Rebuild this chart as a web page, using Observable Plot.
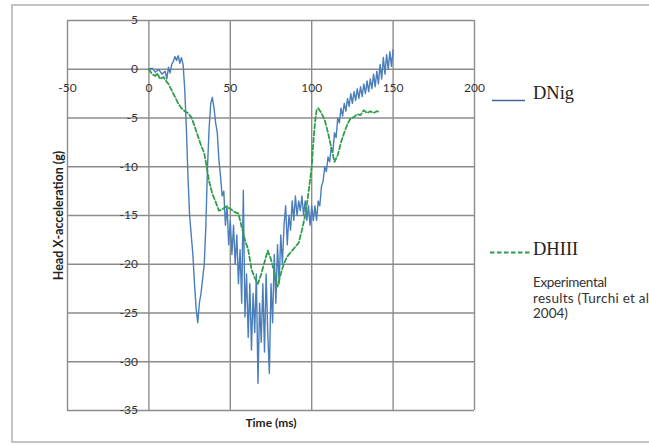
<!DOCTYPE html>
<html><head><meta charset="utf-8">
<script src="https://cdn.jsdelivr.net/npm/d3@7"></script>
<script src="https://cdn.jsdelivr.net/npm/@observablehq/plot@0.6"></script>
<style>body{margin:0;background:#fff;} #chart{position:relative;width:649px;height:445px;overflow:hidden;}</style>
</head><body><div id="chart"></div>
<script>
const xTicks = [-50, 0, 50, 100, 150, 200];
const yTicks = [5, 0, -5, -10, -15, -20, -25, -30, -35];

const dnigT = [0,2,4,6,8,10,11,12,13,14,15,16,17,18,19,20,21,22,23,24,25,26,27,28,29,30,31,32,33,34,35,36,37,38,39,40,41,42,43,44,45,46,47,48,49,50,51,52,53,54,55,56,57,58,59,60,61,62,63,64,65,66,67,68,69,70,71,72,73,74,75,76,77,78,79,80,81,82,83,84,85,86,87,88,89,90,91,92,93,94,95,96,97,98,99,100,101,102,103,104,105,106,107,108,109,110,111,112,113,114,115,116,117,118,119,120,121,122,123,124,125,126,127,128,129,130,131,132,133,134,135,136,137,138,139,140,141,142,143,144,145,146,147,148,149,150];
const dnigG = [0,0.1,-0.3,0,-0.5,-0.2,-1.0,0.2,-0.4,0.5,0.8,1.3,0.9,1.4,0.6,1.2,0.5,-2,-6,-11,-15,-17,-19,-22,-24.5,-26,-24,-23,-21.5,-20,-16,-10,-6,-3.5,-2.9,-4,-5.5,-6.5,-9.3,-11,-13,-12.5,-16,-14,-18,-15.5,-19,-16,-20,-17,-22,-18.5,-24,-12.4,-25.4,-21,-27.5,-22,-28.8,-23,-27,-21,-32.2,-24,-28,-22,-29,-21,-27,-31.2,-22,-26,-19,-24,-18,-22,-17,-20,-16,-14,-18,-15,-16.5,-13.5,-15.5,-13,-15,-13.5,-14.5,-13,-15,-13.5,-15.5,-14,-16,-14,-15.5,-14,-15.5,-13.5,-14,-12,-11.5,-10,-10.5,-9,-9.5,-8,-8.5,-6.5,-7,-5,-5.5,-4,-4.8,-3.5,-4.3,-3,-3.8,-2.5,-3.5,-2.3,-3.2,-2,-3,-1.8,-2.8,-1.5,-2.5,-1.2,-2.3,-1,-2,-0.5,-1.8,-0.2,-1.5,0.5,-1,1.2,-0.5,1.5,0,1.8,0.3,2];

const dhT = [0,2,4,5,7,9,10,12,15,18,20,22,24,26,28,30,32,34,36,37,39,41,43,45,47,50,52,55,57,59,61,63,65,67,69,71,73,75,77,79,81,83,85,88,90,92,94,96,98,100,101,102,103,104,106,108,110,112,114,116,118,120,122,124,126,128,130,132,134,136,138,140,142];
const dhG = [0,-0.5,-0.7,-0.4,-1.0,-0.8,-1.1,-1.5,-2.5,-3.5,-4.0,-4.3,-4.5,-4.9,-5.8,-6.8,-7.8,-8.6,-10.5,-11.5,-12.8,-13.6,-14.5,-14.4,-14.1,-14.3,-14.6,-14.8,-16.2,-17.5,-18.5,-20.5,-21.4,-22,-21,-19.8,-18.6,-19.5,-20.8,-22.3,-21,-19.9,-19.2,-18.6,-18.2,-17.8,-16.5,-15,-12.7,-10,-7.5,-5.5,-4.2,-4.0,-4.5,-5.2,-6.5,-8.0,-9.5,-8.8,-7.5,-6.5,-5.6,-5.0,-4.9,-4.6,-4.7,-4.2,-4.5,-4.3,-4.5,-4.3,-4.4];

const dnig = dnigT.map((t, i) => ({t, g: dnigG[i]}));
const dh = dhT.map((t, i) => ({t, g: dhG[i]}));

const gridColor = "#8c8c8c";
const plot = Plot.plot({
  width: 649, height: 445,
  marginLeft: 67, marginRight: 175, marginTop: 20, marginBottom: 35,
  x: {domain: [-50, 200], axis: null},
  y: {domain: [-35, 5], axis: null},
  style: {fontFamily: "Lato, sans-serif", fontSize: "12px", background: "white", color: "#333"},
  marks: [
    Plot.ruleX(xTicks, {stroke: gridColor, strokeWidth: 1.4, strokeOpacity: 1}),
    Plot.ruleY(yTicks, {stroke: gridColor, strokeWidth: 1.4, strokeOpacity: 1}),
    Plot.line(dnig, {x: "t", y: "g", stroke: "#4a7ebb", strokeWidth: 1.4}),
    Plot.line(dh, {x: "t", y: "g", stroke: "#2f9e4a", strokeWidth: 1.8, strokeDasharray: "4.5,2.5"}),
    Plot.text(xTicks, {x: d => d, y: 0, dy: 19, text: d => String(d), fill: "#333", fontSize: 12}),
    Plot.text(yTicks, {x: 0, y: d => d, dx: -11, text: d => String(d), textAnchor: "end", fill: "#333", fontSize: 12}),
    Plot.text(["Time (ms)"], {frameAnchor: "bottom", dy: 13, textAnchor: "middle", lineAnchor: "middle", fontWeight: "bold", fontSize: 12, fill: "#222"}),
    Plot.text(["Head X-acceleration (g)"], {frameAnchor: "left", dx: -9, rotate: -90, textAnchor: "middle", lineAnchor: "middle", fontWeight: "bold", fontSize: 12.5, fill: "#222"})
  ]
});
document.getElementById("chart").appendChild(plot);

const svg = d3.select(plot);
svg.append("rect").attr("x", 12).attr("y", 5).attr("width", 700).attr("height", 437)
  .attr("fill", "none").attr("stroke", "#c4c4c4").attr("stroke-width", 2);
// legend
const lg = svg.append("g").attr("text-anchor", "start");
lg.append("line").attr("x1", 492).attr("x2", 525).attr("y1", 100.5).attr("y2", 100.5)
  .attr("stroke", "#44659a").attr("stroke-width", 1.3);
lg.append("text").attr("x", 533).attr("y", 99).text("DNig").attr("text-anchor", "start")
  .attr("font-family", "'Liberation Serif', serif").attr("font-size", 18.5).attr("fill", "#222");
lg.append("line").attr("x1", 490).attr("x2", 530).attr("y1", 252.5).attr("y2", 252.5)
  .attr("stroke", "#2f9e4a").attr("stroke-width", 1.8).attr("stroke-dasharray", "4.5,2.5");
lg.append("text").attr("x", 533).attr("y", 255).text("DHIII").attr("text-anchor", "start")
  .attr("font-family", "'Liberation Serif', serif").attr("font-size", 18.5).attr("fill", "#222");
const exp = ["Experimental", "results (Turchi et al", "2004)"];
const expLen = [74, 116, null];
exp.forEach((s, i) => {
  const t = lg.append("text").attr("x", 533).attr("y", 287 + i * 15.5).text(s).attr("text-anchor", "start")
    .attr("font-family", "Lato, sans-serif").attr("font-size", 13.5).attr("fill", "#333");
  if (expLen[i]) t.attr("textLength", expLen[i]).attr("lengthAdjust", "spacing");
});
</script></body></html>
